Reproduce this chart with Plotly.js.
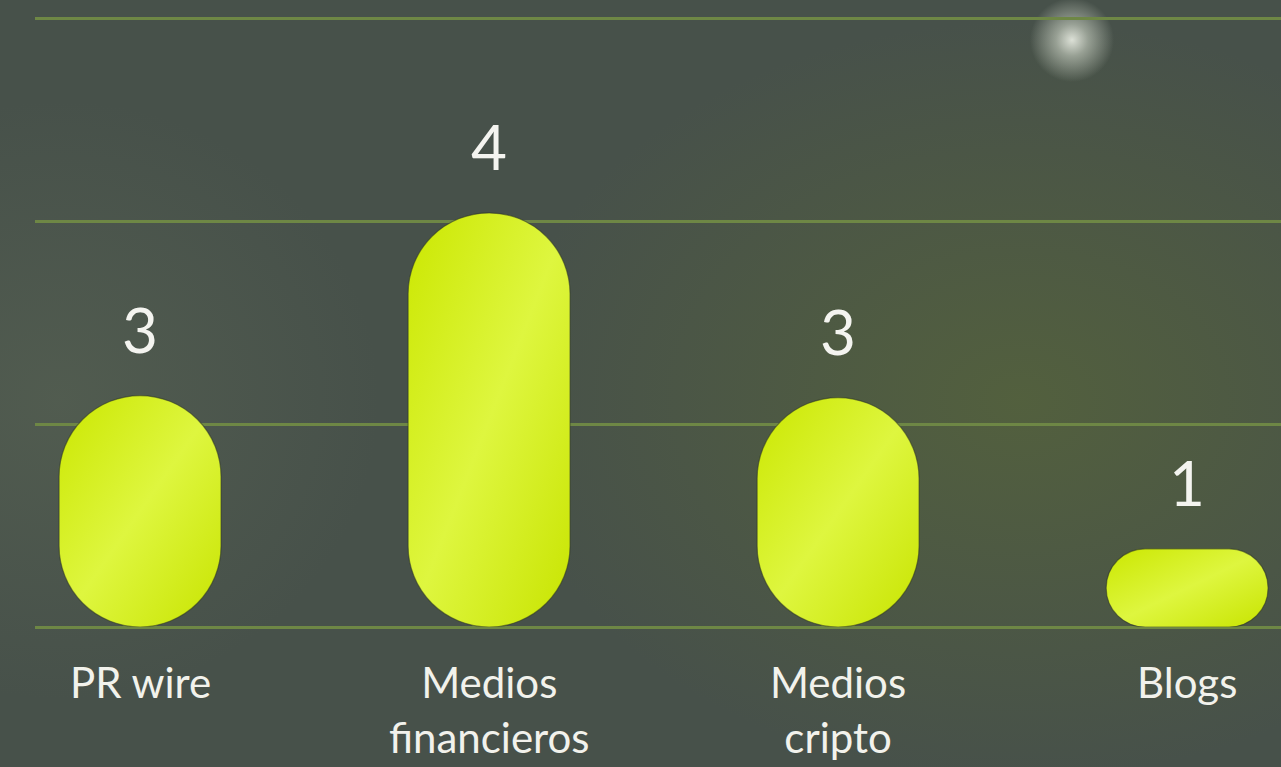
<!DOCTYPE html>
<html><head><meta charset="utf-8">
<script src="https://cdn.plot.ly/plotly-3.0.1.min.js"></script>
<style>
html,body{margin:0;padding:0;width:1281px;height:767px;overflow:hidden;}
body{background:
 radial-gradient(circle at 1072px 40px, rgba(228,232,222,0.95) 0, rgba(205,212,198,0.6) 16px, rgba(90,100,80,0) 42px),
 radial-gradient(ellipse 520px 380px at 1020px 400px, rgba(92,108,52,0.55), rgba(80,95,60,0) 100%),
 radial-gradient(ellipse 320px 300px at 60px 400px, rgba(100,112,90,0.35), rgba(0,0,0,0) 100%),
 #47514a;}
#chart{width:1281px;height:767px;}
</style></head>
<body>
<div id="chart"></div>
<script>
// Data
const categories = ["PR wire", "Medios<br>financieros", "Medios<br>cripto", "Blogs"];
const values = [3, 4, 3, 1];                 // printed value labels
const barLengths = [1.14, 2.04, 1.13, 0.385]; // drawn bar lengths, in gridline units

const W = 1281, H = 767;
const margin = {l: 35, r: 0, t: 0, b: 140};
const yRange = [0, 3.0887];
const xRange = [-0.301, 3.269];
const barWidth = 0.464;
const barColor = '#d4ee16';

const plotW = W - margin.l - margin.r, plotH = H - margin.t - margin.b;
const pxPerY = plotH / (yRange[1] - yRange[0]);
const pxPerX = plotW / (xRange[1] - xRange[0]);

const traces = [];
categories.forEach((c, i) => {
  const r = Math.min(barWidth * pxPerX / 2, barLengths[i] * pxPerY / 2);
  traces.push({type: 'bar', x: [i], y: [barLengths[i]], base: [0], width: barWidth,
    marker: {color: barColor, cornerradius: r, line: {width: 1.2, color: 'rgba(45,55,35,0.55)'}},
    hoverinfo: 'skip', showlegend: false});
});

const annotations = [];
categories.forEach((c, i) => {
  annotations.push({x: i, y: barLengths[i], xref: 'x', yref: 'y', text: String(values[i]),
    showarrow: false, yanchor: 'bottom', yshift: 28,
    font: {family: 'Lato, sans-serif', size: 62, color: '#f4f4f0'}});
  annotations.push({x: i, y: 0, xref: 'x', yref: 'y', text: c, showarrow: false,
    yanchor: 'top', yshift: -28, align: 'center',
    font: {family: 'Lato, sans-serif', size: 42, color: '#f2f2ec'}});
});

const layout = {
  width: W, height: H, margin: margin,
  paper_bgcolor: 'rgba(0,0,0,0)', plot_bgcolor: 'rgba(0,0,0,0)',
  barmode: 'overlay', showlegend: false,
  xaxis: {range: xRange, showgrid: false, zeroline: false, showticklabels: false, showline: false, fixedrange: true},
  yaxis: {range: yRange, dtick: 1, tick0: 0, showgrid: true, gridcolor: '#6e8745', gridwidth: 3,
    zeroline: true, zerolinecolor: '#6e8745', zerolinewidth: 3, showticklabels: false, showline: false, fixedrange: true},
  annotations: annotations
};

Plotly.newPlot('chart', traces, layout, {staticPlot: true, displayModeBar: false}).then(gd => {
  const svg = gd.querySelector('svg.main-svg');
  const ns = 'http://www.w3.org/2000/svg';
  let defs = svg.querySelector('defs');
  if (!defs) { defs = document.createElementNS(ns, 'defs'); svg.insertBefore(defs, svg.firstChild); }
  const g = document.createElementNS(ns, 'linearGradient');
  g.setAttribute('id', 'barGrad');
  g.setAttribute('x1', '0'); g.setAttribute('y1', '0');
  g.setAttribute('x2', '1'); g.setAttribute('y2', '1');
  [['0', '#cbe700'], ['0.5', '#def63f'], ['1', '#c8e400']].forEach(([o, col]) => {
    const s = document.createElementNS(ns, 'stop');
    s.setAttribute('offset', o); s.setAttribute('stop-color', col);
    g.appendChild(s);
  });
  defs.appendChild(g);
  gd.querySelectorAll('.barlayer .point path').forEach(p => { p.style.fill = 'url(#barGrad)'; });
});
</script>
</body></html>
